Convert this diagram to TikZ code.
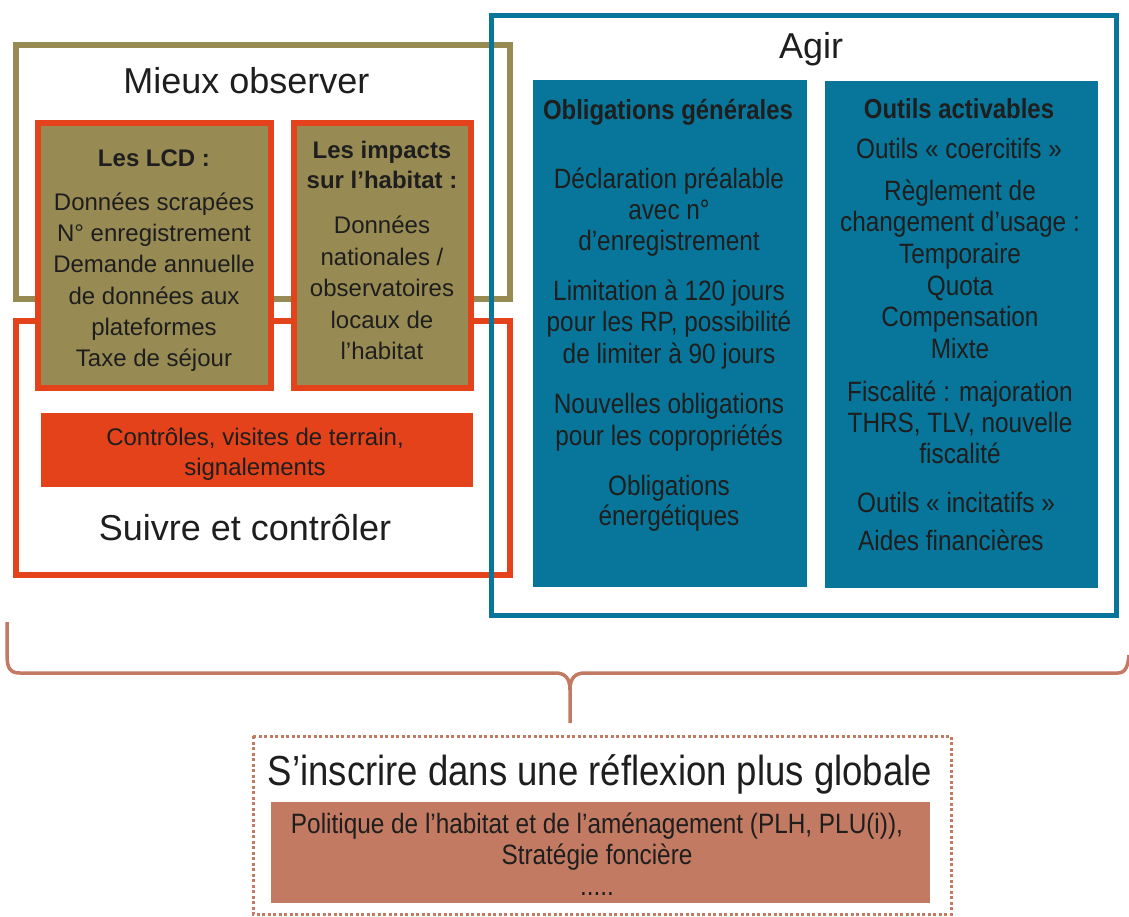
\documentclass[tikz,border=0pt]{standalone}
\usepackage{fontspec}
\setmainfont{Liberation Sans}
\newfontfamily\cnd[FakeStretch=0.87]{Liberation Sans}
\definecolor{olv}{HTML}{978B53}
\definecolor{org}{HTML}{E4421A}
\definecolor{blu}{HTML}{08769A}
\definecolor{brn}{HTML}{C27A62}
\definecolor{ink}{HTML}{1E1E1E}
\newcommand\hs{\rule{0pt}{30pt}}
\tikzset{
 txt/.style={inner sep=0pt, text=ink, align=center},
 lft/.style={txt, font=\fontsize{24}{31.3}\selectfont},
 lftb/.style={txt, font=\bfseries\fontsize{24}{30}\selectfont},
 bl/.style={txt, font=\cnd\fontsize{28}{31}\selectfont},
 blb/.style={txt, font=\cnd\bfseries\fontsize{27.5}{31}\selectfont},
 big/.style={txt, font=\fontsize{36}{40}\selectfont},
 obsbox/.style={fill=olv, draw=org, line width=6pt},
}
\begin{document}
\begin{tikzpicture}[x=1pt,y=-1pt]
\useasboundingbox (0,0) rectangle (1129,916);
% frames
\draw[olv, line width=6pt] (15.5,45) rectangle (509.5,298.5);
\draw[org, line width=6pt] (15.5,321) rectangle (509.5,575);
\draw[blu, line width=5pt] (491,15.5) rectangle (1116,615);
% observation boxes
\draw[obsbox] (38,123) rectangle (271,388);
\draw[obsbox] (293.7,123) rectangle (471,388);
\fill[org] (41,413) rectangle (472.5,487);
% blue boxes
\fill[blu] (533,80) rectangle (807,587);
\fill[blu] (824.5,81) rectangle (1098,588);
% bottom
\draw[brn, line width=3pt, dash pattern=on 3pt off 2.5pt] (253,736) rectangle (951,914);
\fill[brn] (271,802) rectangle (930,903);
% brace
\draw[brn, line width=3.5pt, line join=round]
  (7,622) -- (7,655) .. controls (7,668) and (10,673) .. (20,673) -- (555,673)
  .. controls (565,673) and (570,678) .. (570,690) -- (570,723);
\draw[brn, line width=3.5pt, line join=round]
  (570,690) .. controls (570,678) and (575,673) .. (585,673) -- (1118,673)
  .. controls (1126,673) and (1128,665) .. (1129,655);
% titles
\node[big, anchor=base] (mo) at (246.5,93.3) {Mieux observer};
\node[big, anchor=base] (agir) at (811,58.3) {Agir};
\node[big, anchor=base] (sc) at (245,540.7) {Suivre et contrôler};
\node[txt, font=\cnd\fontsize{42}{46}\selectfont, anchor=base] (glob) at (600,785.7) {S’inscrire dans une réflexion plus globale};
% left texts
\node[lftb, anchor=base] (lcdt) at (154,166.7) {Les LCD :};
\node[lft, anchor=north] (lcdb) at (154,180) {\hs Données scrapées\\N° enregistrement\\Demande annuelle\\de données aux\\plateformes\\Taxe de séjour};
\node[lftb, anchor=north] (impt) at (382,128.3) {\hs Les impacts\\sur l’habitat :};
\node[txt, font=\fontsize{24}{31.5}\selectfont, anchor=north] (impb) at (382,203.3) {\hs Données\\nationales /\\observatoires\\locaux de\\l’habitat};
\node[txt, font=\fontsize{24}{30}\selectfont, anchor=north] (ctrl) at (255,415) {\hs Contrôles, visites de terrain,\\signalements};
% blue 1
\node[blb, anchor=base] (og) at (668,119) {Obligations générales};
\node[bl, anchor=north] (og1) at (669,158) {\hs Déclaration préalable\\avec n°\\d’enregistrement};
\node[txt, font=\cnd\fontsize{28}{31.5}\selectfont, anchor=north] (og2) at (669,270) {\hs Limitation à 120 jours\\pour les RP, possibilité\\de limiter à 90 jours};
\node[txt, font=\cnd\fontsize{28}{32}\selectfont, anchor=north] (og3) at (669,383) {\hs Nouvelles obligations\\pour les copropriétés};
\node[txt, font=\cnd\fontsize{28}{30}\selectfont, anchor=north] (og4) at (669,465) {\hs Obligations\\énergétiques};
% blue 2
\node[blb, anchor=base] (oa) at (959,118.3) {Outils activables};
\node[bl, anchor=base] (oa1) at (959,158) {Outils « coercitifs »};
\node[txt, font=\cnd\fontsize{28}{31.6}\selectfont, anchor=north] (oa2) at (960,170) {\hs Règlement de\\changement d’usage :\\Temporaire\\Quota\\Compensation\\Mixte};
\node[txt, font=\cnd\fontsize{28}{30.7}\selectfont, anchor=north] (oa3) at (960,371.7) {\hs Fiscalité : majoration\\THRS, TLV, nouvelle\\fiscalité};
\node[bl, anchor=base west] (oa4) at (857,512) {Outils « incitatifs »};
\node[bl, anchor=base west] (oa5) at (858,550) {Aides financières};
% bottom body
\node[bl, anchor=north] (pol) at (597,803) {\hs Politique de l’habitat et de l’aménagement (PLH, PLU(i)),\\Stratégie foncière\\.....};
\end{tikzpicture}
\end{document}
